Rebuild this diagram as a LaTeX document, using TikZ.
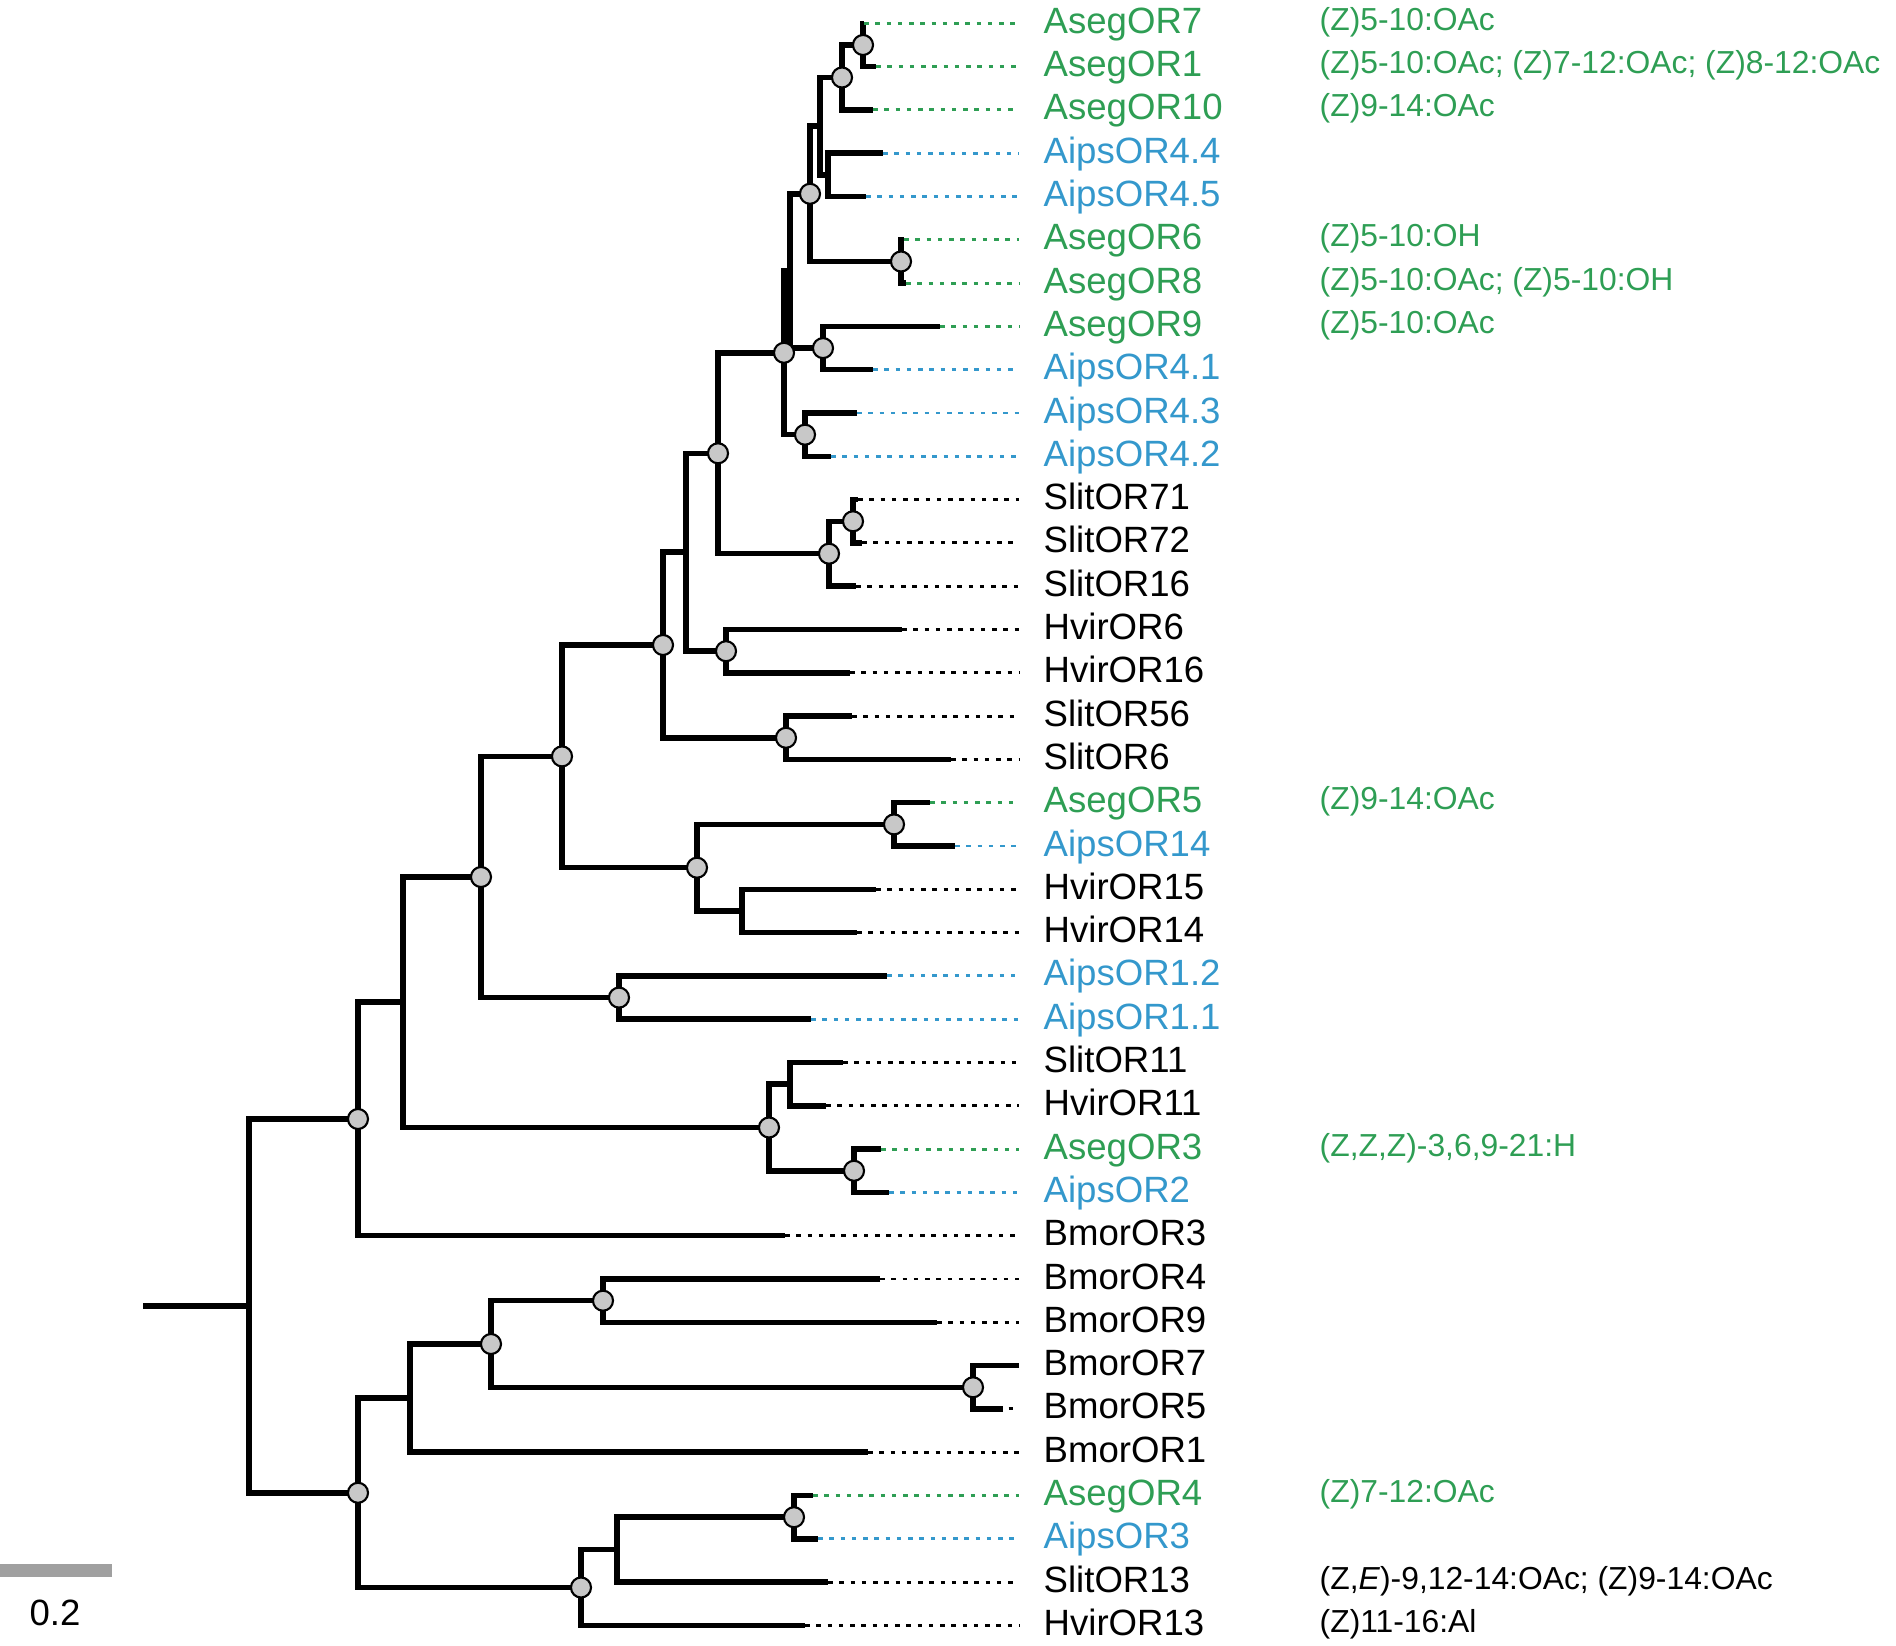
\documentclass[tikz,border=0pt]{standalone}
\usepackage{fontspec}
\setmainfont{Liberation Sans}
\definecolor{aseg}{RGB}{46,158,84}
\definecolor{aips}{RGB}{52,152,204}
\definecolor{bsgray}{RGB}{200,200,200}
\definecolor{bargray}{RGB}{160,160,160}
\begin{document}
\begin{tikzpicture}[x=0.01cm, y=-0.01cm,
  branch/.style={line width=1.55pt},
  bs/.style={circle, draw, line width=0.6pt, fill=bsgray, minimum size=5.7pt, inner sep=0pt},
  dots/.style={line width=0.85pt, dash pattern=on 1.3pt off 1.9pt},
  lab/.style={anchor=west, inner xsep=6.83pt, inner ysep=0pt, text height=7.5pt, text depth=1.8pt, font=\fontsize{10.4}{12}\selectfont},
  chem/.style={anchor=base west, inner sep=0pt, font=\fontsize{9.05}{11}\selectfont}]
\useasboundingbox (0,0) rectangle (1896,1646);

% tips
\coordinate (t0) at (864,23.3);
\coordinate (t1) at (876,66.6);
\coordinate (t2) at (873,109.9);
\coordinate (t3) at (883,153.2);
\coordinate (t4) at (866,196.5);
\coordinate (t5) at (904,239.8);
\coordinate (t6) at (906,283.1);
\coordinate (t7) at (940,326.4);
\coordinate (t8) at (873,369.7);
\coordinate (t9) at (857,413.0);
\coordinate (t10) at (831,456.3);
\coordinate (t11) at (858,499.6);
\coordinate (t12) at (862,542.9);
\coordinate (t13) at (856,586.2);
\coordinate (t14) at (902,629.5);
\coordinate (t15) at (850,672.8);
\coordinate (t16) at (852,716.1);
\coordinate (t17) at (951,759.4);
\coordinate (t18) at (930,802.7);
\coordinate (t19) at (955,846.0);
\coordinate (t20) at (876,889.3);
\coordinate (t21) at (857,932.6);
\coordinate (t22) at (887,975.9);
\coordinate (t23) at (811,1019.2);
\coordinate (t24) at (843,1062.5);
\coordinate (t25) at (826,1105.8);
\coordinate (t26) at (881,1149.1);
\coordinate (t27) at (889,1192.4);
\coordinate (t28) at (785,1235.7);
\coordinate (t29) at (880,1279.0);
\coordinate (t30) at (937,1322.3);
\coordinate (t31) at (1019,1365.6);
\coordinate (t32) at (1003,1408.9);
\coordinate (t33) at (868,1452.2);
\coordinate (t34) at (813,1495.5);
\coordinate (t35) at (818,1538.8);
\coordinate (t36) at (828,1582.1);
\coordinate (t37) at (805,1625.4);

% inner nodes
\coordinate (n1) at (863,45.0);
\coordinate (n2) at (842,77.5);
\coordinate (n3) at (828,174.9);
\coordinate (n4) at (820,126.2);
\coordinate (n6) at (901,261.5);
\coordinate (n5) at (810,193.8);
\coordinate (n9) at (823,348.1);
\coordinate (n8) at (790,271.0);
\coordinate (n11) at (805,434.7);
\coordinate (n10) at (784,352.8);
\coordinate (n13) at (853,521.3);
\coordinate (n14) at (829,553.7);
\coordinate (n12) at (718,453.3);
\coordinate (n15) at (726,651.2);
\coordinate (nk) at (686,552.2);
\coordinate (n16) at (786,737.8);
\coordinate (nh) at (663,645.0);
\coordinate (n17) at (894,824.4);
\coordinate (n18) at (742,911.0);
\coordinate (ni) at (697,867.7);
\coordinate (nf) at (562,756.4);
\coordinate (ng) at (619,997.6);
\coordinate (nd) at (481,877.0);
\coordinate (n19) at (790,1084.2);
\coordinate (n20) at (854,1170.8);
\coordinate (ne) at (769,1127.5);
\coordinate (nc) at (403,1002.2);
\coordinate (na) at (358,1119.0);
\coordinate (n23) at (603,1300.7);
\coordinate (n24) at (973,1387.3);
\coordinate (n25) at (491,1344.0);
\coordinate (n21) at (410,1398.1);
\coordinate (n26) at (794,1517.2);
\coordinate (n27) at (617,1549.6);
\coordinate (n22) at (581,1587.5);
\coordinate (nb) at (358,1492.8);
\coordinate (nr) at (249,1305.9);
\coordinate (r0) at (143,1305.9);

% branches
\draw[branch] (t0) -| (n1) |- (t1);
\draw[branch] (n1) -| (n2) |- (t2);
\draw[branch] (t3) -| (n3) |- (t4);
\draw[branch] (n2) -| (n4) |- (n3);
\draw[branch] (t5) -| (n6) |- (t6);
\draw[branch] (n4) -| (n5) |- (n6);
\draw[branch] (t7) -| (n9) |- (t8);
\draw[branch] (n5) -| (n8) |- (n9);
\draw[branch] (t9) -| (n11) |- (t10);
\draw[branch] (n8) -| (n10) |- (n11);
\draw[branch] (t11) -| (n13) |- (t12);
\draw[branch] (n13) -| (n14) |- (t13);
\draw[branch] (n10) -| (n12) |- (n14);
\draw[branch] (t14) -| (n15) |- (t15);
\draw[branch] (n12) -| (nk) |- (n15);
\draw[branch] (t16) -| (n16) |- (t17);
\draw[branch] (nk) -| (nh) |- (n16);
\draw[branch] (t18) -| (n17) |- (t19);
\draw[branch] (t20) -| (n18) |- (t21);
\draw[branch] (n17) -| (ni) |- (n18);
\draw[branch] (nh) -| (nf) |- (ni);
\draw[branch] (t22) -| (ng) |- (t23);
\draw[branch] (nf) -| (nd) |- (ng);
\draw[branch] (t24) -| (n19) |- (t25);
\draw[branch] (t26) -| (n20) |- (t27);
\draw[branch] (n19) -| (ne) |- (n20);
\draw[branch] (nd) -| (nc) |- (ne);
\draw[branch] (nc) -| (na) |- (t28);
\draw[branch] (t29) -| (n23) |- (t30);
\draw[branch] (t31) -| (n24) |- (t32);
\draw[branch] (n23) -| (n25) |- (n24);
\draw[branch] (n25) -| (n21) |- (t33);
\draw[branch] (t34) -| (n26) |- (t35);
\draw[branch] (n26) -| (n27) |- (t36);
\draw[branch] (n27) -| (n22) |- (t37);
\draw[branch] (n21) -| (nb) |- (n22);
\draw[branch] (na) -| (nr) |- (nb);
\draw[branch] (r0) -- (nr);

% support circles
\node[bs] (b1) at (n1) {};
\node[bs] (b2) at (n2) {};
\node[bs] (b5) at (n5) {};
\node[bs] (b6) at (n6) {};
\node[bs] (b9) at (n9) {};
\node[bs] (b10) at (n10) {};
\node[bs] (b11) at (n11) {};
\node[bs] (b12) at (n12) {};
\node[bs] (b13) at (n13) {};
\node[bs] (b14) at (n14) {};
\node[bs] (b15) at (n15) {};
\node[bs] (bh) at (nh) {};
\node[bs] (b16) at (n16) {};
\node[bs] (bf) at (nf) {};
\node[bs] (b17) at (n17) {};
\node[bs] (bi) at (ni) {};
\node[bs] (bg) at (ng) {};
\node[bs] (bd) at (nd) {};
\node[bs] (b20) at (n20) {};
\node[bs] (be) at (ne) {};
\node[bs] (ba) at (na) {};
\node[bs] (b23) at (n23) {};
\node[bs] (b24) at (n24) {};
\node[bs] (b25) at (n25) {};
\node[bs] (b26) at (n26) {};
\node[bs] (b22) at (n22) {};
\node[bs] (bb) at (nb) {};

% labels
\node[lab, text=aseg] (L0) at (1019,23.3) {AsegOR7};
\node[lab, text=aseg] (L1) at (1019,66.6) {AsegOR1};
\node[lab, text=aseg] (L2) at (1019,109.9) {AsegOR10};
\node[lab, text=aips] (L3) at (1019,153.2) {AipsOR4.4};
\node[lab, text=aips] (L4) at (1019,196.5) {AipsOR4.5};
\node[lab, text=aseg] (L5) at (1019,239.8) {AsegOR6};
\node[lab, text=aseg] (L6) at (1019,283.1) {AsegOR8};
\node[lab, text=aseg] (L7) at (1019,326.4) {AsegOR9};
\node[lab, text=aips] (L8) at (1019,369.7) {AipsOR4.1};
\node[lab, text=aips] (L9) at (1019,413.0) {AipsOR4.3};
\node[lab, text=aips] (L10) at (1019,456.3) {AipsOR4.2};
\node[lab] (L11) at (1019,499.6) {SlitOR71};
\node[lab] (L12) at (1019,542.9) {SlitOR72};
\node[lab] (L13) at (1019,586.2) {SlitOR16};
\node[lab] (L14) at (1019,629.5) {HvirOR6};
\node[lab] (L15) at (1019,672.8) {HvirOR16};
\node[lab] (L16) at (1019,716.1) {SlitOR56};
\node[lab] (L17) at (1019,759.4) {SlitOR6};
\node[lab, text=aseg] (L18) at (1019,802.7) {AsegOR5};
\node[lab, text=aips] (L19) at (1019,846.0) {AipsOR14};
\node[lab] (L20) at (1019,889.3) {HvirOR15};
\node[lab] (L21) at (1019,932.6) {HvirOR14};
\node[lab, text=aips] (L22) at (1019,975.9) {AipsOR1.2};
\node[lab, text=aips] (L23) at (1019,1019.2) {AipsOR1.1};
\node[lab] (L24) at (1019,1062.5) {SlitOR11};
\node[lab] (L25) at (1019,1105.8) {HvirOR11};
\node[lab, text=aseg] (L26) at (1019,1149.1) {AsegOR3};
\node[lab, text=aips] (L27) at (1019,1192.4) {AipsOR2};
\node[lab] (L28) at (1019,1235.7) {BmorOR3};
\node[lab] (L29) at (1019,1279.0) {BmorOR4};
\node[lab] (L30) at (1019,1322.3) {BmorOR9};
\node[lab] (L31) at (1019,1365.6) {BmorOR7};
\node[lab] (L32) at (1019,1408.9) {BmorOR5};
\node[lab] (L33) at (1019,1452.2) {BmorOR1};
\node[lab, text=aseg] (L34) at (1019,1495.5) {AsegOR4};
\node[lab, text=aips] (L35) at (1019,1538.8) {AipsOR3};
\node[lab] (L36) at (1019,1582.1) {SlitOR13};
\node[lab] (L37) at (1019,1625.4) {HvirOR13};

% dotted leaders
\draw[dots, aseg] (t0) -- (L0);
\draw[dots, aseg] (t1) -- (L1);
\draw[dots, aseg] (t2) -- (L2);
\draw[dots, aips] (t3) -- (L3);
\draw[dots, aips] (t4) -- (L4);
\draw[dots, aseg] (t5) -- (L5);
\draw[dots, aseg] (t6) -- (L6);
\draw[dots, aseg] (t7) -- (L7);
\draw[dots, aips] (t8) -- (L8);
\draw[dots, aips] (t9) -- (L9);
\draw[dots, aips] (t10) -- (L10);
\draw[dots] (t11) -- (L11);
\draw[dots] (t12) -- (L12);
\draw[dots] (t13) -- (L13);
\draw[dots] (t14) -- (L14);
\draw[dots] (t15) -- (L15);
\draw[dots] (t16) -- (L16);
\draw[dots] (t17) -- (L17);
\draw[dots, aseg] (t18) -- (L18);
\draw[dots, aips] (t19) -- (L19);
\draw[dots] (t20) -- (L20);
\draw[dots] (t21) -- (L21);
\draw[dots, aips] (t22) -- (L22);
\draw[dots, aips] (t23) -- (L23);
\draw[dots] (t24) -- (L24);
\draw[dots] (t25) -- (L25);
\draw[dots, aseg] (t26) -- (L26);
\draw[dots, aips] (t27) -- (L27);
\draw[dots] (t28) -- (L28);
\draw[dots] (t29) -- (L29);
\draw[dots] (t30) -- (L30);
\draw[dots, dash pattern=on 0pt off 1.6pt on 1.3pt off 9pt] (t32) -- (L32);
\draw[dots] (t33) -- (L33);
\draw[dots, aseg] (t34) -- (L34);
\draw[dots, aips] (t35) -- (L35);
\draw[dots] (t36) -- (L36);
\draw[dots] (t37) -- (L37);

% pheromone ligands
\node[chem, text=aseg] (C0) at (1319,30.3) {(Z)5-10:OAc};
\node[chem, text=aseg] (C1) at (1319,73.6) {(Z)5-10:OAc; (Z)7-12:OAc; (Z)8-12:OAc};
\node[chem, text=aseg] (C2) at (1319,116.9) {(Z)9-14:OAc};
\node[chem, text=aseg] (C5) at (1319,246.8) {(Z)5-10:OH};
\node[chem, text=aseg] (C6) at (1319,290.1) {(Z)5-10:OAc; (Z)5-10:OH};
\node[chem, text=aseg] (C7) at (1319,333.4) {(Z)5-10:OAc};
\node[chem, text=aseg] (C18) at (1319,809.7) {(Z)9-14:OAc};
\node[chem, text=aseg] (C26) at (1319,1156.1) {(Z,Z,Z)-3,6,9-21:H};
\node[chem, text=aseg] (C34) at (1319,1502.5) {(Z)7-12:OAc};
\node[chem] (C36) at (1319,1589.1) {(Z,\textit{E})-9,12-14:OAc; (Z)9-14:OAc};
\node[chem] (C37) at (1319,1632.4) {(Z)11-16:Al};

% scale bar
\fill[bargray] (0,1564) rectangle (112,1577);
\node[font=\fontsize{10.4}{12}\selectfont] (sc) at (55,1613) {0.2};
\end{tikzpicture}
\end{document}
